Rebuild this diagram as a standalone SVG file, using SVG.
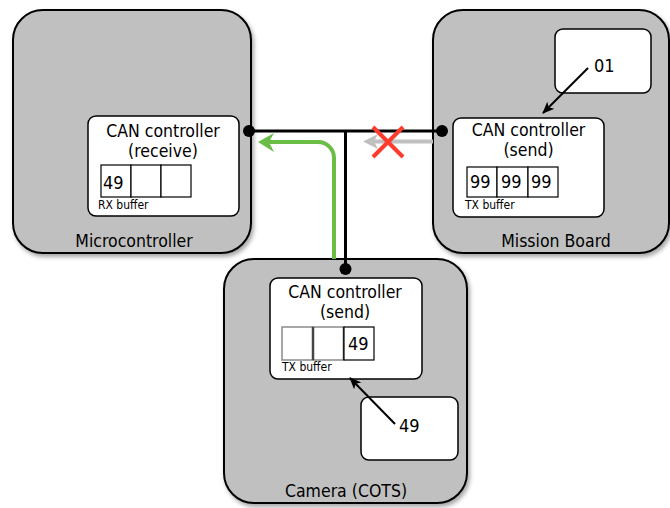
<svg xmlns="http://www.w3.org/2000/svg" width="670" height="508" viewBox="0 0 670 508">
<defs>
<filter id="sh" x="-10%" y="-10%" width="125%" height="125%">
<feDropShadow dx="2" dy="3" stdDeviation="2" flood-color="#000" flood-opacity="0.35"/>
</filter>
<marker id="ah" markerWidth="12" markerHeight="10" refX="11" refY="5" orient="auto" markerUnits="userSpaceOnUse">
<path d="M0,0 L12,5 L0,10 L3,5 z" fill="#000"/>
</marker>
<style>
.outer{fill:#c0c0c0;stroke:#000;stroke-width:2}
.inner{fill:#fff;stroke:#000;stroke-width:1.5}
.cell{fill:#fff;stroke:#000;stroke-width:1.2}
.cellg{fill:#fff;stroke:#8a8a8a;stroke-width:1.5}
text{font-family:"DejaVu Sans Condensed","DejaVu Sans",sans-serif;font-stretch:condensed;fill:#000}
.t{font-size:17.5px;text-anchor:middle}
.d{font-size:18px}
.s{font-size:12px}
.bus{stroke:#000;stroke-width:3;fill:none}
</style>
</defs>
<g id="microcontroller">
<rect class="outer" x="13" y="10" width="238" height="243" rx="30" filter="url(#sh)"/>
<text class="t" x="134" y="247">Microcontroller</text>
</g>
<g id="mission-board">
<rect class="outer" x="433" y="10" width="236" height="243" rx="30" filter="url(#sh)"/>
<text class="t" x="556" y="247">Mission Board</text>
</g>
<g id="camera">
<rect class="outer" x="224" y="259" width="243" height="244" rx="30" filter="url(#sh)"/>
<text class="t" x="346" y="497">Camera (COTS)</text>
</g>
<g id="can-receive">
<rect class="inner" x="88" y="116" width="151" height="100" rx="8"/>
<text class="t" x="163" y="137">CAN controller</text>
<text class="t" x="163" y="157">(receive)</text>
<rect class="cell" x="101" y="165" width="30" height="32"/>
<rect class="cell" x="131" y="165" width="30" height="32"/>
<rect class="cell" x="161" y="165" width="30" height="32"/>
<text class="d" x="103" y="189">49</text>
<text class="s" x="98" y="209">RX buffer</text>
</g>
<g id="can-send-mission">
<rect class="inner" x="453" y="118" width="151" height="99" rx="8"/>
<text class="t" x="528.5" y="136">CAN controller</text>
<text class="t" x="528.5" y="156">(send)</text>
<rect class="cell" x="467" y="167" width="30" height="30"/>
<rect class="cell" x="497" y="167" width="31" height="30"/>
<rect class="cell" x="528" y="167" width="30" height="30"/>
<text class="d" x="470" y="188">99</text>
<text class="d" x="501" y="188">99</text>
<text class="d" x="531" y="188">99</text>
<text class="s" x="465" y="209">TX buffer</text>
</g>
<g id="mission-source">
<rect class="inner" x="555" y="29" width="96" height="64" rx="8"/>
<text class="d" x="594" y="72">01</text>
</g>
<g id="can-send-camera">
<rect class="inner" x="270" y="278" width="152" height="101" rx="8"/>
<text class="t" x="345" y="298">CAN controller</text>
<text class="t" x="345" y="318">(send)</text>
<rect class="cellg" x="282" y="327" width="31" height="33"/>
<rect class="cellg" x="313" y="327" width="31" height="33"/>
<line x1="313" y1="327" x2="313" y2="360" stroke="#444" stroke-width="2.5"/>
<line x1="344" y1="327" x2="344" y2="360" stroke="#444" stroke-width="2.5"/>
<rect class="cell" x="344" y="327" width="30" height="33"/>
<text class="d" x="348" y="350">49</text>
<text class="s" x="282" y="371">TX buffer</text>
</g>
<g id="camera-source">
<rect class="inner" x="361" y="397" width="97" height="63" rx="8"/>
<text class="d" x="399" y="432">49</text>
</g>
<g id="connectors">
<line x1="588" y1="68" x2="543" y2="113" stroke="#000" stroke-width="2" marker-end="url(#ah)"/>
<line x1="395" y1="424" x2="350" y2="378" stroke="#000" stroke-width="2" marker-end="url(#ah)"/>
<line x1="433" y1="141.5" x2="372" y2="141.5" stroke="#c0c0c0" stroke-width="4"/>
<polygon points="363,141.5 378,134 374,141.5 378,149" fill="#c0c0c0"/>
<path d="M334,259 L334,158 A16,16 0 0 0 318,142 L268,142" stroke="#6abd45" stroke-width="4" fill="none"/>
<polygon points="258,142 274,133 269,142 274,152" fill="#6abd45"/>
<line x1="249" y1="131" x2="442" y2="131" class="bus"/>
<line x1="345.5" y1="131" x2="345.5" y2="269" class="bus"/>
<circle cx="249" cy="131" r="6" fill="#000"/>
<circle cx="442" cy="131" r="6" fill="#000"/>
<circle cx="345.5" cy="269" r="6" fill="#000"/>
<line x1="373" y1="127" x2="403" y2="157" stroke="#ff3b30" stroke-width="4"/>
<line x1="403" y1="127" x2="373" y2="157" stroke="#ff3b30" stroke-width="4"/>
</g>
</svg>
